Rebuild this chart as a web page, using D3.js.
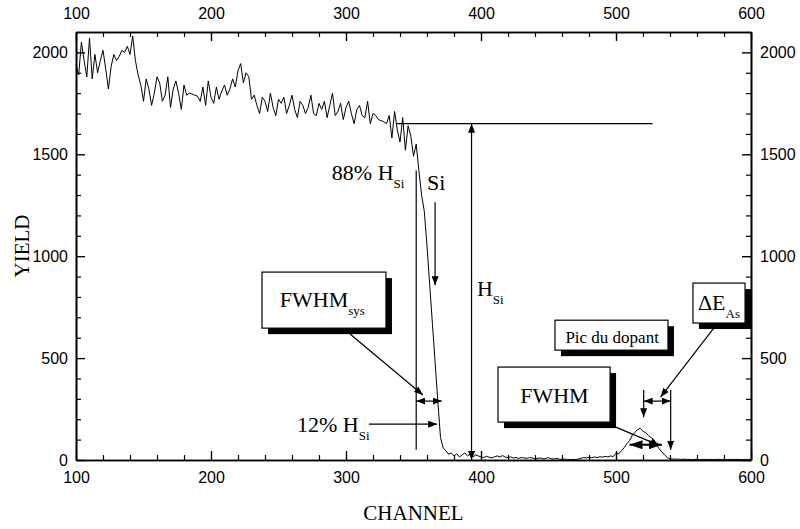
<!DOCTYPE html>
<html>
<head>
<meta charset="utf-8">
<script src="https://cdn.jsdelivr.net/npm/d3@7"></script>
<style>
body { margin: 0; background: #fff; }
.tick text { font-family: "Liberation Sans", Arial, sans-serif; font-size: 16px; fill: #000; }
.ann { font-family: "Liberation Serif", "Times New Roman", serif; fill: #000; }
</style>
</head>
<body>
<script>
let w = 800;
let h = 529;

// RBS spectrum, one reading every 2 channels starting at channel 100
let chStart = 100;
let chStep = 2;
let yieldCounts = [
  // 100 - 144
  1940, 1890, 2050, 1960, 1880, 2070, 1870, 1990, 1900, 1960,
  2010, 1920, 1820, 1930, 1990, 1960, 1980, 2010, 2000, 2030,
  1990, 2080, 1960,
  // 146 - 214
  1890, 1840, 1760, 1870, 1820, 1740, 1800, 1880, 1850, 1760,
  1790, 1880, 1730, 1820, 1860, 1800, 1720, 1840, 1790, 1800,
  1795, 1790, 1785, 1760, 1830, 1740, 1860, 1780, 1750, 1830,
  1770, 1810, 1840, 1790, 1820,
  // 216 - 230
  1870, 1830, 1910, 1945, 1850, 1900, 1880, 1770,
  // 232 - 330
  1790, 1740, 1700, 1780, 1760, 1710, 1800, 1730, 1690, 1770,
  1750, 1780, 1700, 1740, 1790, 1720, 1680, 1760, 1740, 1700,
  1730, 1790, 1700, 1690, 1750, 1720, 1760, 1680, 1740, 1800,
  1690, 1710, 1750, 1670, 1730, 1760, 1700, 1650, 1720, 1740,
  1690, 1680, 1760, 1650, 1700, 1690, 1670, 1665, 1660, 1650,
  // 332 - 398
  1690, 1580, 1710, 1620, 1560, 1680, 1520, 1640, 1590, 1490,
  1550, 1420, 1300, 1220, 1050, 860, 670, 480, 290, 110,
  60, 45, 28, 35, 20, 30, 15, 25, 35, 20,
  30, 15, 25, 20,
  // 400 - 498
  15, 12, 18, 14, 10, 16, 20, 15, 22, 14,
  12, 15, 10, 12, 8, 12, 10, 8, 12, 10,
  6, 8, 10, 5, 8, 12, 6, 5, 8, 4,
  3, 4, 3, 2, 3, 2, 4, 8, 12, 10,
  14, 11, 15, 12, 16, 14, 18, 15, 20, 17,
  // 500 - 600
  33, 30, 45, 60, 80, 95, 120, 135, 150, 155,
  140, 135, 120, 110, 100, 75, 55, 40, 25, 12,
  6, 5, 4, 4, 3, 4, 3, 3, 2, 3,
  3, 2, 3, 3, 2, 3, 2, 3, 3, 2,
  3, 2, 3, 2, 3, 3, 2, 2, 3, 2,
  3
];

let xMajor = [100, 200, 300, 400, 500, 600];
let yMajor = [0, 500, 1000, 1500, 2000];

// annotations, in channel / yield units
let guideLines = [
  {c1: 337, v1: 1650, c2: 527, v2: 1650},
  {c1: 352, v1: 50, c2: 352, v2: 1420}
];
let arrows = [
  {c1: 393, v1: 0, c2: 393, v2: 1650, both: true},
  {c1: 366, v1: 1265, c2: 366, v2: 858},
  {c1: 303, v1: 618, c2: 357, v2: 319},
  {c1: 352, v1: 289, c2: 371, v2: 289, both: true},
  {c1: 317, v1: 176, c2: 367.5, v2: 176},
  {c1: 491, v1: 186, c2: 532, v2: 72},
  {c1: 510, v1: 75, c2: 534, v2: 75, both: true, big: true},
  {c1: 573, v1: 652, c2: 533, v2: 309},
  {c1: 520.5, v1: 343, c2: 520.5, v2: 210},
  {c1: 540.5, v1: 343, c2: 540.5, v2: 50},
  {c1: 520.5, v1: 289, c2: 540.5, v2: 289, both: true}
];
let boxes = [
  {c1: 237.8, v1: 922, c2: 329.6, v2: 647},
  {c1: 412.6, v1: 456, c2: 495.6, v2: 186},
  {c1: 454.8, v1: 686, c2: 538.5, v2: 539},
  {c1: 557, v1: 868, c2: 595.6, v2: 672}
];
let labels = [
  {c: 289.5, v: 1373, main: "88% H", sub: "Si"},
  {c: 360, v: 1324, main: "Si"},
  {c: 397, v: 804, main: "H", sub: "Si"},
  {c: 251, v: 750, main: "FWHM", sub: "sys"},
  {c: 263.7, v: 137, main: "12% H", sub: "Si"},
  {c: 429, v: 279, main: "FWHM"},
  {c: 462.5, v: 574, main: "Pic du dopant", small: true},
  {c: 560.7, v: 735, main: "\u0394E", sub: "As"}
];

let margin = {top: 32, right: 49, bottom: 69, left: 76};

let x = d3.scaleLinear()
          .domain([100, 600])
          .range([margin.left, w - margin.right]);

let y = d3.scaleLinear()
          .domain([0, 2100])
          .range([h - margin.bottom, margin.top]);

let svg = d3.select("body")
            .append("svg")
            .attr("width", w)
            .attr("height", h);

let defs = svg.append("defs");
defs.append("marker")
    .attr("id", "head")
    .attr("markerUnits", "userSpaceOnUse")
    .attr("markerWidth", 9)
    .attr("markerHeight", 7)
    .attr("refX", 9)
    .attr("refY", 3.5)
    .attr("orient", "auto-start-reverse")
    .append("path")
    .attr("d", "M0,0L9,3.5L0,7Z")
    .attr("fill", "#000");
defs.append("marker")
    .attr("id", "bighead")
    .attr("markerUnits", "userSpaceOnUse")
    .attr("markerWidth", 13)
    .attr("markerHeight", 9)
    .attr("refX", 13)
    .attr("refY", 4.5)
    .attr("orient", "auto-start-reverse")
    .append("path")
    .attr("d", "M0,0L13,4.5L0,9Z")
    .attr("fill", "#000");

let xMinor = d3.range(100, 601, 20).filter(d => !xMajor.includes(d));
let yMinor = d3.range(0, 2101, 100).filter(d => !yMajor.includes(d));

//axes on all four sides, ticks pointing inward
function drawAxis(axisFn, scale, pos, major, minor, pad) {
  let g = svg.append("g").attr("transform", pos);
  g.call(axisFn(scale).tickValues(minor).tickSize(-5).tickSizeOuter(0).tickFormat(""));
  let g2 = svg.append("g").attr("transform", pos);
  g2.call(axisFn(scale).tickValues(major).tickSize(-9).tickSizeOuter(0).tickPadding(pad).tickFormat(d3.format("d")));
  svg.selectAll(".domain").attr("stroke-width", 1.6);
  g.selectAll(".tick line").attr("stroke-width", 1.2);
  g2.selectAll(".tick line").attr("stroke-width", 1.4);
  return g2;
}

drawAxis(d3.axisBottom, x, `translate(0,${h - margin.bottom})`, xMajor, xMinor, 12);
drawAxis(d3.axisTop, x, `translate(0,${margin.top})`, xMajor, xMinor, 13);
drawAxis(d3.axisLeft, y, `translate(${margin.left},0)`, yMajor, yMinor, 8);
drawAxis(d3.axisRight, y, `translate(${w - margin.right},0)`, yMajor, yMinor, 9);

//the spectrum
let line = d3.line()
             .x((d, i) => x(chStart + i * chStep))
             .y(d => y(d));

svg.append("path")
   .datum(yieldCounts)
   .attr("d", line)
   .attr("fill", "none")
   .attr("stroke", "#000")
   .attr("stroke-width", 1)
   .attr("stroke-linejoin", "round");

//guide lines
svg.selectAll(".guide")
   .data(guideLines)
   .enter()
   .append("line")
   .attr("x1", d => x(d.c1)).attr("y1", d => y(d.v1))
   .attr("x2", d => x(d.c2)).attr("y2", d => y(d.v2))
   .attr("stroke", "#000")
   .attr("stroke-width", 1.2);

//arrows
svg.selectAll(".arrow")
   .data(arrows)
   .enter()
   .append("line")
   .attr("x1", d => x(d.c1)).attr("y1", d => y(d.v1))
   .attr("x2", d => x(d.c2)).attr("y2", d => y(d.v2))
   .attr("stroke", "#000")
   .attr("stroke-width", d => d.big ? 2 : 1.2)
   .attr("marker-end", d => d.big ? "url(#bighead)" : "url(#head)")
   .attr("marker-start", d => d.both ? (d.big ? "url(#bighead)" : "url(#head)") : null);

//boxes with drop shadow
let shadow = 6;
let bx = svg.selectAll(".box")
            .data(boxes)
            .enter()
            .append("g");
bx.append("rect")
  .attr("x", d => x(d.c1) + shadow).attr("y", d => y(d.v1) + shadow)
  .attr("width", d => x(d.c2) - x(d.c1)).attr("height", d => y(d.v2) - y(d.v1))
  .attr("fill", "#000");
bx.append("rect")
  .attr("x", d => x(d.c1)).attr("y", d => y(d.v1))
  .attr("width", d => x(d.c2) - x(d.c1)).attr("height", d => y(d.v2) - y(d.v1))
  .attr("fill", "#fff")
  .attr("stroke", "#000")
  .attr("stroke-width", 1.2);

//labels with subscripts
let tx = svg.selectAll(".lab")
            .data(labels)
            .enter()
            .append("text")
            .attr("class", "ann")
            .attr("x", d => x(d.c))
            .attr("y", d => y(d.v))
            .style("font-size", d => d.small ? "17px" : "22px");
tx.append("tspan").text(d => d.main);
tx.filter(d => d.sub)
  .append("tspan")
  .attr("dy", 8)
  .style("font-size", "13px")
  .text(d => d.sub);

//axis titles
svg.append("text")
   .attr("class", "ann")
   .attr("x", (x(100) + x(600)) / 2)
   .attr("y", 520)
   .attr("text-anchor", "middle")
   .style("font-size", "21px")
   .text("CHANNEL");

svg.append("text")
   .attr("class", "ann")
   .attr("transform", `translate(29,${y(1050)}) rotate(-90)`)
   .attr("text-anchor", "middle")
   .style("font-size", "21px")
   .text("YIELD");
</script>
</body>
</html>
